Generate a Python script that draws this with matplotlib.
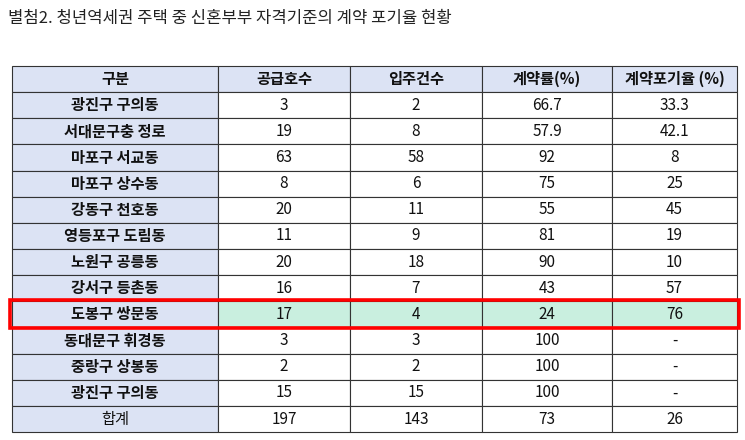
import matplotlib.pyplot as plt
from matplotlib.patches import Rectangle

plt.rcParams['font.family'] = ['Noto Sans CJK KR', 'DejaVu Sans']

title = "별첨2. 청년역세권 주택 중 신혼부부 자격기준의 계약 포기율 현황"
headers = ["구분", "공급호수", "입주건수", "계약률(%)", "계약포기율 (%)"]
areas = ["광진구 구의동", "서대문구충 정로", "마포구 서교동", "마포구 상수동", "강동구 천호동",
         "영등포구 도림동", "노원구 공릉동", "강서구 등촌동", "도봉구 쌍문동", "동대문구 휘경동",
         "중랑구 상봉동", "광진구 구의동", "합계"]
supply = ["3", "19", "63", "8", "20", "11", "20", "16", "17", "3", "2", "15", "197"]
moved_in = ["2", "8", "58", "6", "11", "9", "18", "7", "4", "3", "2", "15", "143"]
contract_rate = ["66.7", "57.9", "92", "75", "55", "81", "90", "43", "24", "100", "100", "100", "73"]
giveup_rate = ["33.3", "42.1", "8", "25", "45", "19", "10", "57", "76", "-", "-", "-", "26"]
highlight = "도봉구 쌍문동"

W, H = 745, 440
fig = plt.figure(figsize=(W / 100, H / 100), dpi=100)
ax = fig.add_axes([0, 0, 1, 1])
ax.set_xlim(0, W)
ax.set_ylim(H, 0)
ax.axis("off")

ax.text(8, 18, title, fontsize=12, va="center", ha="left", color="#222222")

col_x = [12, 218, 350, 482, 612, 737]
top, row_h = 66, 26.15
head_bg = "#dce3f4"
green = "#c9efdf"

rows = [headers] + [list(r) for r in zip(areas, supply, moved_in, contract_rate, giveup_rate)]
for i, row in enumerate(rows):
    y0 = top + i * row_h
    for j, val in enumerate(row):
        x0, x1 = col_x[j], col_x[j + 1]
        if i == 0 or j == 0:
            fc = head_bg
        elif row[0] == highlight:
            fc = green
        else:
            fc = "white"
        ax.add_patch(Rectangle((x0, y0), x1 - x0, row_h, fc=fc, ec="#333333", lw=0.8))
        bold = (i == 0 or j == 0) and val != "합계"
        ax.text((x0 + x1) / 2, y0 + row_h / 2, val, ha="center", va="center",
                fontsize=11, fontweight="bold" if bold else "normal", color="#111111")

hi = areas.index(highlight) + 1
ax.add_patch(Rectangle((10, top + hi * row_h - 1), 729, row_h + 2, fill=False,
                       ec="#ff0000", lw=2.6, zorder=5))

fig.savefig("out.png", dpi=100)
